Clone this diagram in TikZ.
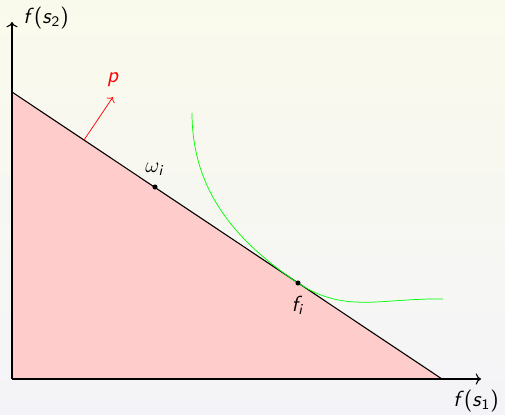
\documentclass[tikz,border=0pt]{standalone}
\usepackage{amsmath,amssymb}
\usepackage{tikz}
\usetikzlibrary{arrows.meta,positioning,calc}
\DeclareMathAlphabet{\mathsfit}{OT1}{cmss}{m}{sl}
\newcommand\fsv[1]{\textsf{\textsl{f}(\textsl{s}$_{\mathsf{#1}}$)}}
\definecolor{bgtop}{RGB}{250,250,236}
\definecolor{bgbot}{RGB}{244,244,248}
\definecolor{feasred}{RGB}{255,204,204}
\tikzset{dot/.style={circle,fill=black,inner sep=0pt,minimum size=2.8pt}}

\begin{document}
\begin{tikzpicture}[x=0.55pt,y=0.55pt,font=\sffamily\large]
  \shade[top color=bgtop,bottom color=bgbot] (0,0) rectangle (505,414);
  \useasboundingbox (0,0) rectangle (505,414);
  \coordinate (O) at (12,35); \coordinate (X) at (481,35); \coordinate (Y) at (12,392);
  \coordinate (A) at (12,322); \coordinate (B) at (442,35);
  % feasible set and budget line
  \fill[feasred] (O) -- (A) -- (B) -- cycle;
  \draw[semithick] (A) -- (B);
  \draw[semithick,->] (O) -- (X); \draw[semithick,->] (O) -- (Y);
  \node[right] (ylab) at (17,396) {\fsv{2}};
  \node (xlab) at (476,13) {\fsv{1}};
  % indifference curve
  \coordinate (F) at (298,131);
  \draw[green] (192,301) .. controls (192,220) and (240,170) .. (F)
    .. controls (345,100) and (380,116) .. (443,115);
  \node[dot] (w) at (155,227) {}; \node[above=1pt of w] (wlab) {$\omega_{\mathsfit{i}}$};
  \node[dot] (f) at (F) {}; \node[below=2pt of f] (flab) {$\mathsfit{f}_{\mathsfit{i}}$};
  % price vector
  \coordinate (P0) at (84,274); \coordinate (P1) at (113,317);
  \draw[red,->] (P0) -- (P1); \node[red,above=2pt of P1] (plab) {$\mathsfit{p}$};
\end{tikzpicture}
\end{document}
